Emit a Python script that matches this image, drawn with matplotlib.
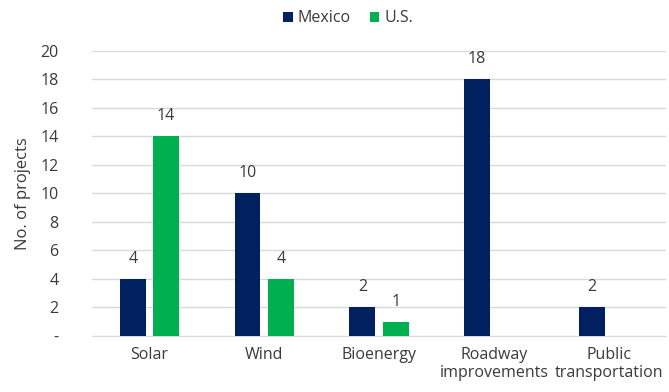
import matplotlib.pyplot as plt
import numpy as np

categories = ['Solar', 'Wind', 'Bioenergy', 'Roadway\nimprovements', 'Public\ntransportation']
mexico = [4, 10, 2, 18, 2]
us = [14, 4, 1, None, None]
yticks = [0, 2, 4, 6, 8, 10, 12, 14, 16, 18, 20]
ytick_labels = ['-'] + [str(v) for v in yticks[1:]]

plt.rcParams['font.family'] = ['Open Sans', 'DejaVu Sans']

navy = '#002060'
green = '#00B050'
text_col = '#3a3a3a'

fig = plt.figure(figsize=(6.69, 3.92), dpi=100)
ax = fig.add_axes([0.1375, 0.143, 0.858, 0.727])

x = np.arange(len(categories))
w = 0.225
off = 0.145

ax.bar(x - off, mexico, w, color=navy, label='Mexico', zorder=3)
us_x = [xi + off for xi, v in zip(x, us) if v is not None]
us_v = [v for v in us if v is not None]
ax.bar(us_x, us_v, w, color=green, label='U.S.', zorder=3)

for xi, v in zip(x, mexico):
    ax.text(xi - off, v + 0.85, str(v), ha='center', va='bottom', fontsize=11.5, color=text_col)
for xi, v in zip(us_x, us_v):
    ax.text(xi, v + 0.85, str(v), ha='center', va='bottom', fontsize=11.5, color=text_col)

ax.set_xlim(-0.5, len(categories) - 0.5)
ax.set_ylim(0, 20)
ax.set_yticks(yticks)
ax.set_yticklabels(ytick_labels)
ax.set_xticks(x)
ax.set_xticklabels(categories, linespacing=1.2, fontsize=11.5)
ax.tick_params(axis='both', length=0, colors=text_col, pad=8)
ax.tick_params(axis='y', pad=24, labelsize=11.5)
for lab in ax.get_yticklabels():
    lab.set_horizontalalignment('right')

ax.grid(axis='y', color='#D9D9D9', linewidth=1, zorder=0)
for s in ['left', 'right', 'top']:
    ax.spines[s].set_visible(False)
ax.spines['bottom'].set_color('#D9D9D9')

ax.set_ylabel('No. of projects', fontsize=12, color=text_col, labelpad=7)

fig.legend(loc='upper center', bbox_to_anchor=(0.52, 1.01), ncol=2, frameon=False,
           fontsize=11.5, handlelength=0.6, handleheight=0.6, handletextpad=0.3,
           columnspacing=1.2, labelcolor=text_col)

fig.savefig('out.png', dpi=100)
